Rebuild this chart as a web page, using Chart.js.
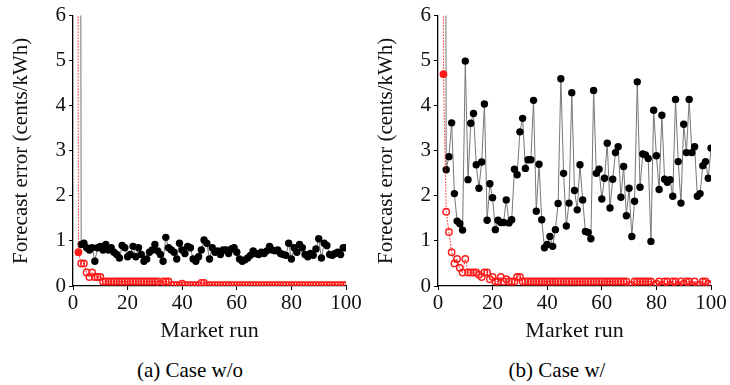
<!DOCTYPE html>
<html>
<head>
<meta charset="utf-8">
<script src="https://cdn.jsdelivr.net/npm/chart.js@4"></script>
<style>
  body { margin: 0; background: #fff; width: 730px; height: 385px; position: relative; overflow: hidden; }
  .panel { position: absolute; top: 0; width: 365px; height: 345px; }
  .caption { position: absolute; top: 358px; font: 21px "Liberation Serif", serif; color: #000; transform: translateX(-50%); white-space: nowrap; }
</style>
</head>
<body>
<div class="panel" style="left:0"><canvas id="chartA" width="365" height="345"></canvas></div>
<div class="panel" style="left:365px"><canvas id="chartB" width="365" height="345"></canvas></div>
<div class="caption" style="left:190px">(a) Case w/o</div>
<div class="caption" style="left:557px">(b) Case w/</div>
<script>
// market runs 1..100 (x axis)
const runs = Array.from({length: 100}, (_, i) => i + 1);
const xTicks = [0, 20, 40, 60, 80, 100];
const yTicks = [0, 1, 2, 3, 4, 5, 6];

// (a) case w/o - black: forecast error, red: learning error
const blackA = [null, 40, 0.92, 0.95, 0.85, 0.8, 0.85, 0.55, 0.85, 0.88,
  0.8, 0.92, 0.8, 0.85, 0.75, 0.7, 0.62, 0.9, 0.85, 0.65,
  0.7, 0.88, 0.65, 0.85, 0.7, 0.55, 0.6, 0.75, 0.8, 0.92,
  0.78, 0.7, 0.55, 1.08, 0.85, 0.8, 0.75, 0.6, 0.95, 0.8,
  0.72, 0.88, 0.85, 0.6, 0.55, 0.65, 0.8, 1.02, 0.95, 0.6,
  0.85, 0.75, 0.78, 0.7, 0.8, 0.8, 0.72, 0.82, 0.85, 0.75,
  0.6, 0.55, 0.58, 0.62, 0.68, 0.78, 0.72, 0.7, 0.75, 0.72,
  0.78, 0.88, 0.8, 0.78, 0.8, 0.72, 0.7, 0.68, 0.95, 0.6,
  0.85, 0.75, 0.92, 0.85, 0.7, 0.65, 0.72, 0.68, 0.82, 1.05,
  0.62, 0.95, 0.9, 0.7, 0.68, 0.72, 0.75, 0.7, 0.85, 0.85];
const redA = [40, 0.75, 0.5, 0.5, 0.3, 0.2, 0.3, 0.2, 0.2, 0.2,
  0.1, 0.1, 0.1, 0.1, 0.1, 0.1, 0.1, 0.1, 0.1, 0.1,
  0.1, 0.1, 0.1, 0.1, 0.1, 0.1, 0.1, 0.1, 0.1, 0.1,
  0.1, 0.05, 0.1, 0.1, 0.1, 0.02, 0.02, 0.02, 0.02, 0.05,
  0.02, 0.02, 0.02, 0.02, 0.02, 0.02, 0.07, 0.07, 0.02, 0.02,
  0.02, 0.02, 0.02, 0.02, 0.02, 0.02, 0.02, 0.02, 0.02, 0.02,
  0.02, 0.02, 0.02, 0.02, 0.02, 0.02, 0.02, 0.02, 0.02, 0.02,
  0.02, 0.02, 0.02, 0.02, 0.02, 0.02, 0.02, 0.02, 0.02, 0.02,
  0.02, 0.02, 0.02, 0.02, 0.02, 0.02, 0.02, 0.02, 0.02, 0.02,
  0.02, 0.02, 0.02, 0.02, 0.02, 0.02, 0.02, 0.02, 0.02, 0.02];

// (b) case w/
const blackB = [null, 40, 2.58, 2.87, 3.62, 2.05, 1.44, 1.38, 1.24, 4.99,
  2.36, 3.61, 3.83, 2.69, 2.17, 2.75, 4.04, 1.46, 2.27, 1.96,
  1.25, 1.46, 1.41, 1.41, 1.91, 1.40, 1.47, 2.59, 2.47, 3.42,
  3.72, 2.61, 2.8, 2.8, 4.12, 1.66, 2.7, 1.47, 0.85, 0.92,
  1.1, 0.88, 1.25, 1.83, 4.6, 2.5, 1.33, 1.84, 4.29, 2.12,
  1.69, 2.69, 1.91, 1.21, 1.19, 1.05, 4.34, 2.5, 2.59, 1.93,
  2.39, 3.17, 1.73, 2.37, 2.96, 3.09, 1.97, 2.65, 1.56, 2.17,
  1.1, 1.88, 4.53, 2.19, 2.93, 2.91, 2.83, 0.99, 3.9, 2.89,
  2.14, 3.79, 2.37, 2.3, 2.36, 1.99, 4.14, 2.76, 1.84, 3.59,
  2.96, 4.14, 2.96, 3.09, 1.99, 2.05, 2.67, 2.76, 2.39, 3.06];
const redB = [40, 4.7, 1.65, 1.2, 0.75, 0.5, 0.6, 0.4, 0.3, 0.6,
  0.3, 0.3, 0.3, 0.3, 0.25, 0.2, 0.3, 0.3, 0.15, 0.2,
  0.1, 0.1, 0.2, 0.1, 0.15, 0.1, 0.1, 0.1, 0.2, 0.2,
  0.1, 0.1, 0.1, 0.1, 0.1, 0.1, 0.1, 0.1, 0.1, 0.1,
  0.1, 0.1, 0.1, 0.1, 0.1, 0.1, 0.1, 0.1, 0.1, 0.1,
  0.1, 0.1, 0.1, 0.1, 0.1, 0.1, 0.1, 0.1, 0.1, 0.1,
  0.1, 0.1, 0.1, 0.1, 0.1, 0.1, 0.1, 0.1, 0.1, 0.02,
  0.02, 0.1, 0.1, 0.1, 0.1, 0.1, 0.1, 0.1, 0.02, 0.05,
  0.1, 0.02, 0.1, 0.1, 0.02, 0.1, 0.1, 0.02, 0.1, 0.05,
  0.1, 0.1, 0.02, 0.1, 0.02, 0.02, 0.1, 0.1, 0.05, 0.02];

const serif = "'Liberation Serif', serif";
const toPoints = vals => runs.map((r, i) => ({x: r, y: vals[i]}));

function makeChart(id, blackVals, redVals) {
  return new Chart(document.getElementById(id), {
    type: 'line',
    data: {
      datasets: [{
        // red on top
        data: toPoints(redVals),
        borderColor: '#ff2020',
        borderWidth: 1,
        borderDash: [1.5, 1.5],
        pointRadius: 3.2,
        pointBorderWidth: 1.4,
        pointBorderColor: '#ff1a1a',
        pointBackgroundColor: ctx => ctx.dataIndex === 1 ? '#ff1a1a' : 'rgba(255,255,255,0)',
        tension: 0
      }, {
        data: toPoints(blackVals),
        borderColor: '#777',
        borderWidth: 1,
        pointRadius: 3.7,
        pointBorderWidth: 0,
        pointBackgroundColor: '#000',
        tension: 0
      }]
    },
    options: {
      responsive: false,
      animation: false,
      layout: { padding: { top: 15, right: 19, left: 0, bottom: 0 } },
      plugins: { legend: { display: false }, tooltip: { enabled: false } },
      scales: {
        x: {
          type: 'linear', min: 0, max: 100,
          afterBuildTicks: s => { s.ticks = xTicks.map(v => ({value: v})); },
          afterFit: s => { s.height = 59; },
          grid: { drawOnChartArea: false, tickLength: 4, color: '#000' },
          border: { display: true, color: '#000', width: 1.3 },
          ticks: { color: '#111', padding: 1, font: { family: serif, size: 21 }, maxRotation: 0 },
          title: { display: true, text: 'Market run', color: '#111',
                   font: { family: serif, size: 22 }, padding: { top: 0, bottom: 1 } }
        },
        y: {
          min: 0, max: 6,
          afterBuildTicks: s => { s.ticks = yTicks.map(v => ({value: v})); },
          afterFit: s => { s.width = 73; },
          grid: { drawOnChartArea: false, tickLength: 4, color: '#000' },
          border: { display: true, color: '#000', width: 1.3 },
          ticks: { color: '#111', padding: 3, font: { family: serif, size: 21 } },
          title: { display: true, text: 'Forecast error (cents/kWh)', color: '#111',
                   font: { family: serif, size: 21 }, padding: { top: 9, bottom: 0 } }
        }
      }
    }
  });
}

document.fonts.load("21px 'Liberation Serif'").then(() => {
  makeChart('chartA', blackA, redA);
  makeChart('chartB', blackB, redB);
});
</script>
</body>
</html>
